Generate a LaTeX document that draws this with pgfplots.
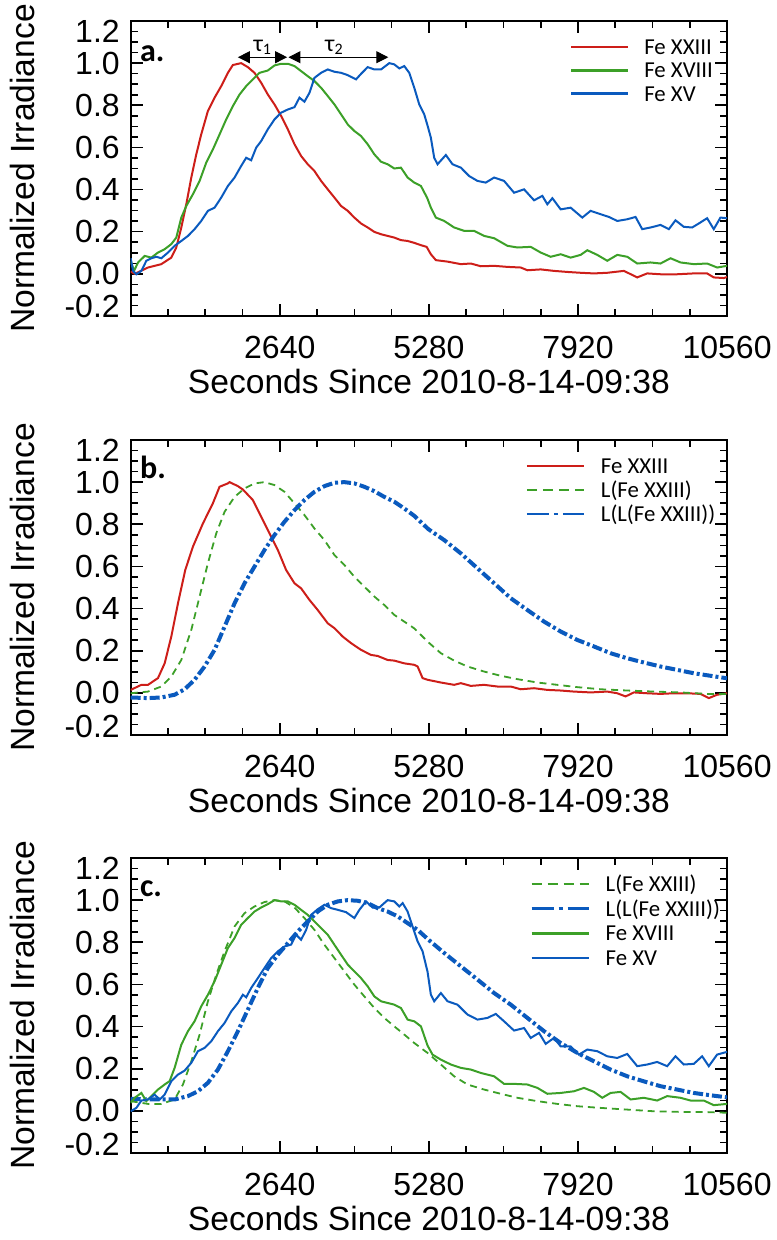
\documentclass[border=0pt]{standalone}
\usepackage{pgfplots}
\pgfplotsset{compat=1.18}
\usepackage{fontspec}
\setmainfont{Liberation Sans}
\newfontfamily\carlito{Carlito}
\usetikzlibrary{arrows.meta}
\definecolor{cred}{RGB}{205,30,25}
\definecolor{cgreen}{RGB}{60,160,40}
\definecolor{cblue}{RGB}{10,90,190}
\newcommand{\tickfont}{\fontsize{16}{19}\selectfont}
\newcommand{\labfont}{\fontsize{16.8}{20}\selectfont}
\pgfplotsset{
  panel/.style={
    scale only axis, width=298.2pt, height=147.5pt,
    xmin=0, xmax=10560, ymin=-0.2, ymax=1.2,
    clip mode=individual,
    scaled x ticks=false, scaled y ticks=false,
    axis line style={line width=1pt},
    tick align=inside,
    major tick length=6pt, minor tick length=3.5pt,
    every tick/.style={black, line width=0.8pt},
    xtick={0,2640,5280,7920,10560},
    xticklabels={,2640,5280,7920,10560},
    minor x tick num=3,
    ytick={-0.2,0,0.2,0.4,0.6,0.8,1.0,1.2},
    yticklabels={,0.0,0.2,0.4,0.6,0.8,1.0,},
    minor y tick num=3,
    xticklabel style={font=\tickfont, inner sep=0pt, anchor=base, yshift=-21.15pt},
    yticklabel style={font=\tickfont, inner sep=0pt, anchor=east, xshift=-5.3pt},
    xlabel={Seconds Since 2010-8-14-09:38},
    ylabel={Normalized Irradiance},
    every axis x label/.style={at={(axis description cs:0.5,-0.2644)}, anchor=base, font=\labfont, inner sep=0pt},
    every axis y label/.style={at={(axis description cs:-0.1806,0.5)}, anchor=center, rotate=90, font=\labfont, inner sep=0pt},
    legend cell align=left,
    legend style={draw=none, fill=none, inner sep=0pt, outer sep=0pt, row sep=0pt, column sep=0pt,
      nodes={inner sep=0pt, text height=8pt, text depth=3.7pt, anchor=base west},
      font=\carlito\fontsize{11.4}{13}\selectfont, anchor=north west},
  },
  limg/.style={legend image code/.code={\draw[#1] (0pt,3.7pt) -- (28.5pt,3.7pt); \path (0pt,0pt) (36pt,3.7pt);}},
}
\newcommand{\outerlabels}{%
  \node[anchor=east, inner sep=0pt, font=\tickfont] at ([xshift=-5.3pt,yshift=4.5pt]rel axis cs:0,0) {-0.2};
  \node[anchor=east, inner sep=0pt, font=\tickfont] at ([xshift=-5.3pt,yshift=-5pt]rel axis cs:0,1) {1.2};
}
\begin{document}
\begin{tikzpicture}
\useasboundingbox (0,0) rectangle (388pt,620pt);
% ---------------- panel a
\begin{axis}[panel, at={(65.35pt,462pt)}, anchor=south west,
  legend style={at={(0.7366,0.941)}}]
\addplot[cred, line width=1pt, limg={cred, line width=1.3pt}] coordinates {
(0,0.011)(71,0.0)(306,0.03)(542,0.046)(719,0.077)(807,0.125)(896,0.22)(984,0.33)(1073,0.457)(1161,0.567)(1249,0.662)(1367,0.773)(1485,0.836)(1603,0.891)(1721,0.954)(1809,0.991)(1956,1.0)(2074,0.981)(2192,0.954)(2310,0.907)(2428,0.851)(2546,0.804)(2664,0.749)(2782,0.686)(2900,0.615)(3018,0.559)(3135,0.52)(3253,0.488)(3371,0.441)(3489,0.401)(3607,0.362)(3725,0.322)(3843,0.299)(3960,0.267)(4078,0.239)(4196,0.22)(4314,0.199)(4432,0.188)(4550,0.18)(4667,0.172)(4785,0.16)(4903,0.156)(5021,0.147)(5139,0.136)(5240,0.128)(5315,0.093)(5403,0.065)(5610,0.058)(5845,0.046)(6022,0.049)(6199,0.036)(6435,0.038)(6670,0.033)(6906,0.03)(7024,0.017)(7260,0.021)(7495,0.014)(7731,0.009)(7967,0.005)(8203,0.002)(8438,0.005)(8733,0.014)(8969,-0.017)(9145,0.002)(9381,-0.002)(9676,-0.002)(9970,0.002)(10206,0.002)(10324,-0.017)(10501,-0.02)(10560,-0.015)};
\addlegendentry{Fe XXIII}
\addplot[cgreen, line width=1pt, limg={cgreen, line width=1.3pt}] coordinates {
(0,0.062)(59,0.014)(130,0.054)(248,0.085)(365,0.077)(483,0.101)(601,0.117)(719,0.141)(807,0.172)(896,0.267)(984,0.322)(1102,0.378)(1220,0.441)(1338,0.528)(1456,0.591)(1574,0.662)(1691,0.733)(1809,0.796)(1927,0.851)(2045,0.891)(2163,0.923)(2281,0.954)(2428,0.965)(2546,0.989)(2664,0.997)(2782,0.997)(2900,0.986)(3018,0.962)(3135,0.938)(3253,0.915)(3371,0.883)(3489,0.844)(3607,0.804)(3725,0.757)(3843,0.709)(3960,0.678)(4078,0.654)(4196,0.615)(4314,0.567)(4432,0.532)(4550,0.52)(4667,0.5)(4785,0.504)(4903,0.457)(5021,0.433)(5139,0.417)(5250,0.36)(5315,0.314)(5403,0.267)(5551,0.251)(5727,0.22)(5904,0.204)(6081,0.204)(6258,0.18)(6435,0.169)(6670,0.133)(6847,0.125)(7083,0.128)(7260,0.101)(7436,0.081)(7613,0.093)(7790,0.077)(7967,0.09)(8085,0.112)(8261,0.09)(8438,0.062)(8615,0.09)(8792,0.081)(8969,0.049)(9204,0.054)(9381,0.049)(9558,0.074)(9735,0.054)(9970,0.046)(10206,0.049)(10383,0.03)(10560,0.038)};
\addlegendentry{Fe XVIII}
\addplot[cblue, line width=1pt, limg={cblue, line width=1.3pt}] coordinates {
(0,0.074)(41,0.014)(100,-0.002)(189,0.014)(277,0.062)(365,0.074)(454,0.081)(542,0.074)(660,0.101)(778,0.133)(896,0.156)(1014,0.18)(1131,0.212)(1249,0.251)(1367,0.299)(1485,0.314)(1603,0.362)(1721,0.417)(1839,0.457)(1956,0.512)(2045,0.551)(2133,0.539)(2222,0.599)(2310,0.63)(2428,0.686)(2546,0.733)(2664,0.765)(2782,0.78)(2900,0.791)(2988,0.836)(3076,0.817)(3165,0.859)(3253,0.93)(3371,0.954)(3489,0.97)(3607,0.959)(3725,0.954)(3843,0.943)(3990,0.923)(4078,0.949)(4196,0.981)(4314,0.97)(4432,0.97)(4579,1.0)(4667,0.994)(4756,0.975)(4844,0.986)(4932,0.954)(5021,0.883)(5109,0.804)(5197,0.757)(5260,0.70)(5315,0.646)(5374,0.551)(5433,0.52)(5580,0.564)(5698,0.52)(5845,0.504)(5993,0.464)(6140,0.441)(6287,0.433)(6435,0.457)(6611,0.441)(6788,0.385)(6965,0.401)(7142,0.349)(7289,0.37)(7377,0.33)(7466,0.359)(7613,0.306)(7790,0.314)(7996,0.267)(8143,0.299)(8320,0.283)(8468,0.27)(8615,0.251)(8792,0.259)(8939,0.27)(9057,0.212)(9204,0.22)(9381,0.232)(9528,0.212)(9646,0.254)(9794,0.223)(9941,0.22)(10059,0.239)(10206,0.264)(10324,0.212)(10442,0.267)(10560,0.264)};
\addlegendentry{Fe XV}
\draw[{Triangle[length=6pt,width=6pt]}-{Triangle[length=6pt,width=6pt]}, line width=0.5pt] (axis cs:1898,1.028) -- (axis cs:2770,1.028);
\draw[{Triangle[length=6pt,width=6pt]}-{Triangle[length=6pt,width=6pt]}, line width=0.5pt] (axis cs:2793,1.028) -- (axis cs:4561,1.028);
\node[anchor=base, inner sep=0pt, font=\carlito\fontsize{12}{14}\selectfont] at (axis cs:2340,1.057) {τ\textsubscript{1}};
\node[anchor=base, inner sep=0pt, font=\carlito\fontsize{12}{14}\selectfont] at (axis cs:3607,1.057) {τ\textsubscript{2}};
\node[anchor=base west, inner sep=0pt, font=\carlito\bfseries\fontsize{16}{18}\selectfont] at ([xshift=4.5pt,yshift=-20.5pt]rel axis cs:0,1) {a.};
\outerlabels
\end{axis}
% ---------------- panel b
\begin{axis}[panel, at={(65.35pt,252.5pt)}, anchor=south west,
  legend style={at={(0.661,0.941)}, nodes={text depth=4pt}}]
\addplot[cred, line width=1pt, limg={cred, line width=1.3pt}] coordinates {
(0,0.014)(189,0.038)(306,0.038)(483,0.07)(601,0.14)(719,0.267)(837,0.425)(966,0.583)(1102,0.694)(1279,0.804)(1456,0.9)(1573,0.978)(1721,0.994)(1750,1.0)(1898,0.981)(1986,0.965)(2163,0.915)(2310,0.836)(2457,0.757)(2605,0.678)(2752,0.583)(2900,0.52)(3017,0.496)(3165,0.441)(3312,0.393)(3489,0.33)(3607,0.307)(3754,0.267)(3901,0.236)(4078,0.204)(4255,0.18)(4373,0.175)(4549,0.156)(4667,0.153)(4844,0.14)(5021,0.133)(5080,0.125)(5168,0.07)(5256,0.062)(5492,0.049)(5727,0.038)(5845,0.046)(6022,0.033)(6258,0.038)(6493,0.03)(6729,0.03)(6906,0.017)(7142,0.022)(7377,0.014)(7613,0.011)(7849,0.006)(8143,0.002)(8438,0.006)(8615,-0.002)(8762,-0.017)(8910,0.002)(9145,-0.002)(9381,-0.005)(9617,-0.002)(9853,-0.002)(10088,-0.005)(10236,-0.025)(10383,-0.009)(10560,-0.002)};
\addlegendentry{Fe XXIII}
\addplot[cgreen, line width=0.9pt, dash pattern=on 3.5pt off 2.5pt, limg={cgreen, line width=1.3pt, dash pattern=on 5pt off 3pt}] coordinates {
(0,-0.002)(306,0.006)(542,0.03)(719,0.077)(896,0.156)(1073,0.299)(1220,0.457)(1367,0.615)(1515,0.757)(1662,0.859)(1839,0.93)(2015,0.97)(2192,0.994)(2369,1.0)(2546,0.986)(2723,0.954)(2900,0.899)(3076,0.844)(3253,0.78)(3430,0.725)(3607,0.654)(3783,0.607)(3960,0.551)(4137,0.504)(4314,0.457)(4490,0.417)(4667,0.37)(4844,0.338)(5021,0.306)(5270,0.24)(5492,0.188)(5727,0.153)(5963,0.125)(6258,0.101)(6552,0.081)(6847,0.065)(7201,0.049)(7554,0.038)(7908,0.027)(8320,0.017)(8792,0.011)(9263,0.006)(9735,0.002)(10206,-0.005)(10560,-0.005)};
\addlegendentry{L(Fe XXIII)}
\addplot[cblue, line width=2pt, dash pattern=on 5pt off 1.5pt on 1.5pt off 1.5pt, limg={cblue, line width=1.3pt, dash pattern=on 11pt off 2.5pt on 2pt off 2.5pt}] coordinates {
(0,-0.022)(306,-0.025)(542,-0.022)(778,-0.009)(955,0.017)(1131,0.062)(1308,0.125)(1485,0.204)(1662,0.314)(1839,0.425)(2015,0.52)(2192,0.599)(2369,0.678)(2546,0.749)(2723,0.812)(2900,0.867)(3076,0.915)(3253,0.954)(3430,0.981)(3607,0.997)(3783,1.0)(3960,0.994)(4137,0.978)(4314,0.957)(4490,0.93)(4667,0.907)(4844,0.875)(5021,0.84)(5270,0.777)(5551,0.725)(5845,0.662)(6140,0.591)(6435,0.52)(6729,0.449)(7024,0.393)(7319,0.338)(7613,0.291)(7908,0.251)(8203,0.22)(8497,0.188)(8792,0.164)(9086,0.144)(9381,0.125)(9676,0.109)(9970,0.093)(10265,0.081)(10560,0.069)};
\addlegendentry{L(L(Fe XXIII))}
\node[anchor=base west, inner sep=0pt, font=\carlito\bfseries\fontsize{16}{18}\selectfont] at ([xshift=4.5pt,yshift=-19.5pt]rel axis cs:0,1) {b.};
\outerlabels
\end{axis}
% ---------------- panel c
\begin{axis}[panel, at={(65.35pt,43.5pt)}, anchor=south west,
  legend style={at={(0.669,0.941)}, nodes={text depth=4.3pt}}]
\addplot[cgreen, line width=0.9pt, dash pattern=on 3.5pt off 2.5pt, limg={cgreen, line width=1.3pt, dash pattern=on 5pt off 3pt}] coordinates {
(0,0.046)(306,0.033)(542,0.033)(778,0.054)(925,0.125)(1073,0.235)(1220,0.362)(1367,0.52)(1515,0.646)(1662,0.757)(1839,0.875)(2015,0.938)(2192,0.97)(2369,0.991)(2546,1.0)(2723,0.994)(2900,0.965)(3076,0.915)(3253,0.859)(3430,0.788)(3607,0.725)(3783,0.662)(3960,0.599)(4137,0.543)(4314,0.488)(4490,0.441)(4667,0.401)(4844,0.362)(5021,0.322)(5256,0.275)(5492,0.22)(5727,0.164)(5963,0.125)(6258,0.101)(6552,0.081)(6847,0.062)(7201,0.046)(7554,0.033)(7908,0.022)(8320,0.014)(8792,0.006)(9263,-0.002)(9735,-0.005)(10206,-0.006)(10560,-0.009)};
\addlegendentry{L(Fe XXIII)}
\addplot[cblue, line width=2pt, dash pattern=on 5pt off 1.5pt on 1.5pt off 1.5pt, limg={cblue, line width=1.3pt, dash pattern=on 11pt off 2.5pt on 2pt off 2.5pt}] coordinates {
(0,0.057)(306,0.054)(542,0.054)(778,0.054)(1014,0.07)(1190,0.093)(1367,0.133)(1544,0.196)(1721,0.283)(1898,0.378)(2074,0.48)(2251,0.583)(2428,0.678)(2605,0.741)(2782,0.796)(2958,0.851)(3135,0.899)(3312,0.946)(3489,0.978)(3666,0.994)(3843,1.0)(4019,0.997)(4196,0.986)(4373,0.962)(4549,0.946)(4726,0.923)(4903,0.891)(5080,0.859)(5256,0.816)(5551,0.749)(5845,0.686)(6140,0.623)(6435,0.559)(6729,0.504)(7024,0.441)(7319,0.378)(7613,0.322)(7908,0.275)(8203,0.235)(8497,0.196)(8792,0.164)(9086,0.14)(9381,0.117)(9676,0.101)(9970,0.085)(10265,0.074)(10560,0.064)};
\addlegendentry{L(L(Fe XXIII))}
\addplot[cgreen, line width=1pt, limg={cgreen, line width=1.3pt}] coordinates {
(0,0.038)(71,0.062)(189,0.085)(277,0.046)(365,0.07)(483,0.101)(601,0.125)(689,0.141)(778,0.204)(896,0.314)(1014,0.378)(1131,0.425)(1249,0.496)(1367,0.551)(1485,0.615)(1603,0.694)(1721,0.773)(1839,0.82)(1956,0.883)(2074,0.915)(2192,0.946)(2310,0.965)(2428,0.981)(2546,1.0)(2664,0.994)(2782,0.994)(2900,0.978)(3017,0.954)(3135,0.93)(3253,0.899)(3371,0.867)(3489,0.836)(3607,0.788)(3725,0.741)(3843,0.694)(3960,0.662)(4078,0.63)(4196,0.591)(4314,0.543)(4432,0.52)(4549,0.512)(4667,0.504)(4785,0.488)(4903,0.433)(5021,0.425)(5139,0.401)(5256,0.31)(5344,0.267)(5492,0.243)(5668,0.22)(5845,0.204)(6022,0.196)(6199,0.18)(6435,0.164)(6611,0.128)(6788,0.128)(7024,0.125)(7201,0.109)(7377,0.081)(7613,0.085)(7849,0.093)(8026,0.109)(8202,0.09)(8350,0.062)(8497,0.085)(8674,0.09)(8851,0.054)(9086,0.062)(9322,0.049)(9499,0.07)(9735,0.062)(9912,0.049)(10147,0.049)(10324,0.027)(10560,0.033)};
\addlegendentry{Fe XVIII}
\addplot[cblue, line width=1pt, limg={cblue, line width=1.3pt}] coordinates {
(0,-0.002)(100,0.014)(189,0.049)(306,0.054)(424,0.077)(513,0.054)(601,0.077)(719,0.141)(837,0.172)(955,0.191)(1073,0.228)(1190,0.283)(1308,0.299)(1426,0.33)(1544,0.378)(1662,0.417)(1780,0.472)(1898,0.512)(1986,0.551)(2045,0.539)(2133,0.583)(2251,0.63)(2369,0.678)(2487,0.725)(2605,0.757)(2723,0.78)(2840,0.789)(2929,0.836)(3017,0.812)(3106,0.859)(3194,0.93)(3312,0.957)(3430,0.978)(3548,0.962)(3666,0.954)(3813,0.943)(3960,0.915)(4049,0.954)(4166,0.994)(4284,0.965)(4402,0.965)(4549,1.0)(4667,0.994)(4756,0.97)(4815,0.986)(4903,0.946)(4991,0.875)(5080,0.804)(5168,0.757)(5256,0.66)(5315,0.551)(5374,0.52)(5492,0.559)(5610,0.52)(5786,0.504)(5963,0.457)(6140,0.433)(6317,0.441)(6464,0.46)(6611,0.425)(6788,0.381)(6965,0.393)(7083,0.346)(7230,0.37)(7348,0.318)(7495,0.346)(7613,0.306)(7790,0.306)(7937,0.267)(8085,0.291)(8261,0.283)(8438,0.259)(8615,0.251)(8792,0.27)(8969,0.212)(9145,0.22)(9322,0.232)(9499,0.212)(9646,0.259)(9794,0.22)(9970,0.223)(10118,0.259)(10236,0.212)(10383,0.267)(10560,0.28)};
\addlegendentry{Fe XV}
\node[anchor=base west, inner sep=0pt, font=\carlito\bfseries\fontsize{16}{18}\selectfont] at ([xshift=4.5pt,yshift=-19.5pt]rel axis cs:0,1) {c.};
\outerlabels
\end{axis}
\end{tikzpicture}
\end{document}
